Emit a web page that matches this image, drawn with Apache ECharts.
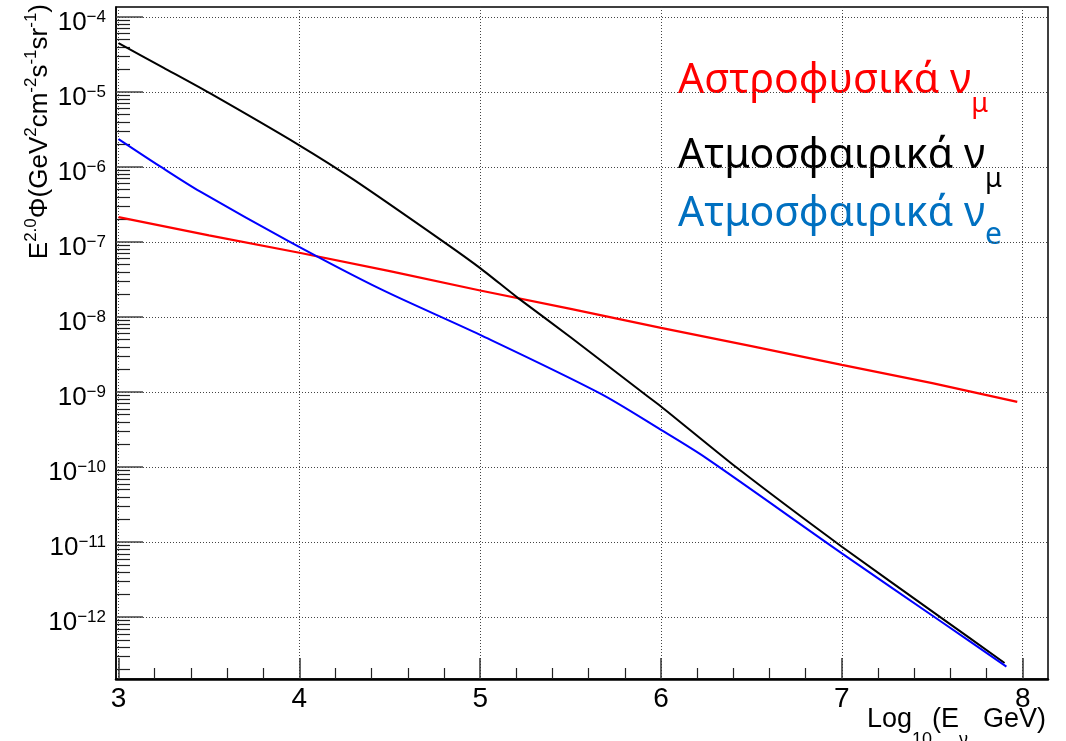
<!DOCTYPE html>
<html>
<head>
<meta charset="utf-8">
<title>Neutrino flux</title>
<script src="https://cdn.jsdelivr.net/npm/echarts@6.0.0/dist/echarts.min.js"></script>
<style>
  html, body { margin: 0; padding: 0; background: #fff; }
  #main { width: 1066px; height: 741px; }
</style>
</head>
<body>
<div id="main"></div>
<script>
// values: x = log10(E/GeV), y = E^2 * flux
var astroLogE = [3.0, 3.5, 4.0, 4.5, 5.0, 5.5, 6.0, 6.5, 7.0, 7.5, 7.97];
var astroFlux = [2.15e-7, 1.23e-7, 7.2e-8, 4.1e-8, 2.26e-8, 1.29e-8, 7.2e-9, 4.1e-9, 2.31e-9, 1.32e-9, 7.4e-10];

var atmMuLogE = [3.0, 3.25, 3.5, 4.0, 4.3, 4.8, 5.0, 5.21, 5.5, 5.9, 6.0, 6.42, 7.0, 7.55, 7.9];
var atmMuFlux = [4.5e-5, 2.1e-5, 9.8e-6, 1.95e-6, 6.8e-7, 1.0e-7, 4.5e-8, 1.79e-8, 5.4e-9, 9.8e-10, 6.45e-10, 9.8e-11, 8.7e-12, 9.8e-13, 2.45e-13];

var atmELogE = [3.0, 3.23, 3.45, 3.95, 4.45, 5.0, 5.66, 6.0, 6.25, 7.0, 7.55, 7.91];
var atmEFlux = [2.36e-6, 1.02e-6, 4.73e-7, 1.0e-7, 2.36e-8, 5.8e-9, 9.7e-10, 3.14e-10, 1.32e-10, 7.1e-12, 8.7e-13, 2.19e-13];

var xTicks = [3, 4, 5, 6, 7, 8];
var yTickExps = [-12, -11, -10, -9, -8, -7, -6, -5, -4];

var X_MIN = 2.986, X_MAX = 8.14;
var Y_MIN = 1.5e-13, Y_MAX = 1.36e-4;

// minor tick positions (ROOT style)
var xMinor = [];
for (var i = 1; i < 26; i++) {
  if (i % 5 !== 0) xMinor.push(Math.round((3 + i * 0.2) * 10) / 10);
}
var yMajor = yTickExps.map(function (e) { return Math.pow(10, e); });
var yMinor = [];
for (var e = -13; e <= -4; e++) {
  for (var m = 2; m <= 9; m++) {
    var v = m * Math.pow(10, e);
    if (v > Y_MIN && v < Y_MAX) yMinor.push(v);
  }
}

function pairs(xs, ys) {
  return xs.map(function (x, k) { return [x, ys[k]]; });
}

var font = 'Liberation Sans';
var legendFont = 'Noto Sans';
var myChart = echarts.init(document.getElementById('main'));

function legendText(y, main, sub, color, subSize, subPad) {
  return {
    type: 'text', x: 678, y: y,
    style: {
      text: '{m|' + main + '}{s|' + sub + '}',
      rich: {
        m: { fontFamily: legendFont, fontSize: 41, fill: color, lineHeight: 48, verticalAlign: 'top' },
        s: { fontFamily: legendFont, fontSize: subSize, fill: color, lineHeight: subSize, verticalAlign: 'top', padding: [subPad, 0, 0, 0] }
      }
    }
  };
}

var option = {
  animation: false,
  backgroundColor: '#fff',
  grid: {
    left: 116, top: 7, right: 18, bottom: 62,
    show: true, borderColor: '#000', borderWidth: 1.5
  },
  xAxis: [{
    type: 'value', min: X_MIN, max: X_MAX,
    axisLine: { show: true, onZero: false, lineStyle: { color: '#000', width: 2.5 } },
    axisTick: { inside: true, length: 21, customValues: xTicks, lineStyle: { color: '#333', width: 1.5 } },
    axisLabel: { customValues: xTicks, margin: 6, color: '#000', fontFamily: font, fontSize: 28 },
    splitLine: { show: true, lineStyle: { color: '#444', width: 1, type: [1, 2] } }
  }, {
    type: 'value', min: X_MIN, max: X_MAX, position: 'bottom',
    axisLine: { show: false },
    axisTick: { inside: true, length: 11, customValues: xMinor, lineStyle: { color: '#222', width: 1.2 } },
    axisLabel: { show: false },
    splitLine: { show: false }
  }],
  yAxis: [{
    type: 'log', logBase: 10, min: Y_MIN, max: Y_MAX,
    axisLine: { show: true, onZero: false, lineStyle: { color: '#000', width: 1.5 } },
    axisTick: { inside: true, length: 27, customValues: yMajor, lineStyle: { color: '#444', width: 1.5 } },
    axisLabel: {
      customValues: yMajor, margin: 10, padding: [11, 0, 0, 0],
      formatter: function (val) {
        var ex = Math.round(Math.log10(val));
        return '{b|10}{s|\u2212' + Math.abs(ex) + '}';
      },
      rich: {
        b: { fontFamily: font, fontSize: 26, color: '#000', lineHeight: 27 },
        s: { fontFamily: font, fontSize: 17, color: '#000', lineHeight: 17, verticalAlign: 'top' }
      }
    },
    splitLine: { show: true, lineStyle: { color: '#444', width: 1, type: [1, 2] } }
  }, {
    type: 'log', logBase: 10, min: Y_MIN, max: Y_MAX, position: 'left',
    axisLine: { show: false },
    axisTick: { inside: true, length: 14, customValues: yMinor, lineStyle: { color: '#222', width: 1.2 } },
    axisLabel: { show: false },
    splitLine: { show: false }
  }],
  graphic: [
    {
      type: 'text', x: 53, y: 4, rotation: Math.PI / 2,
      style: {
        text: '{m|E}{s|2.0}{m|\u03A6(GeV}{s|2}{m|cm}{s|-2}{m|s}{s|-1}{m|sr}{s|-1}{m|)}',
        align: 'right', verticalAlign: 'bottom',
        rich: {
          m: { fontFamily: font, fontSize: 26, fill: '#000', lineHeight: 30, verticalAlign: 'bottom' },
          s: { fontFamily: font, fontSize: 17, fill: '#000', lineHeight: 17, verticalAlign: 'top' }
        }
      }
    },
    {
      type: 'text', x: 1046, y: 706,
      style: {
        text: '{m|Log}{s|10}{m|(E}{s|\u03BD}{m|  GeV)}',
        align: 'right', verticalAlign: 'top',
        rich: {
          m: { fontFamily: font, fontSize: 27, fill: '#000', lineHeight: 30, verticalAlign: 'top' },
          s: { fontFamily: font, fontSize: 18, fill: '#000', lineHeight: 18, verticalAlign: 'top', padding: [25, 0, 0, 0] }
        }
      }
    },
    legendText(61, '\u0391\u03C3\u03C4\u03C1\u03BF\u03C6\u03C5\u03C3\u03B9\u03BA\u03AC \u03BD', '\u03BC', '#ff0000', 27, 30),
    legendText(136, '\u0391\u03C4\u03BC\u03BF\u03C3\u03C6\u03B1\u03B9\u03C1\u03B9\u03BA\u03AC \u03BD', '\u03BC', '#000000', 27, 30),
    legendText(194, '\u0391\u03C4\u03BC\u03BF\u03C3\u03C6\u03B1\u03B9\u03C1\u03B9\u03BA\u03AC \u03BD', 'e', '#0070c0', 30, 26)
  ],
  series: [
    {
      name: 'Αστροφυσικά νμ', type: 'line', xAxisIndex: 0, yAxisIndex: 0,
      data: pairs(astroLogE, astroFlux), showSymbol: false, smooth: false,
      lineStyle: { color: '#ff0000', width: 2.2 }, z: 3
    },
    {
      name: 'Ατμοσφαιρικά νμ', type: 'line', xAxisIndex: 0, yAxisIndex: 0,
      data: pairs(atmMuLogE, atmMuFlux), showSymbol: false, smooth: 0.2,
      lineStyle: { color: '#000000', width: 2 }, z: 3
    },
    {
      name: 'Ατμοσφαιρικά νe', type: 'line', xAxisIndex: 0, yAxisIndex: 0,
      data: pairs(atmELogE, atmEFlux), showSymbol: false, smooth: 0.3,
      lineStyle: { color: '#0000ff', width: 2 }, z: 3
    }
  ]
};

myChart.setOption(option);
</script>
</body>
</html>
